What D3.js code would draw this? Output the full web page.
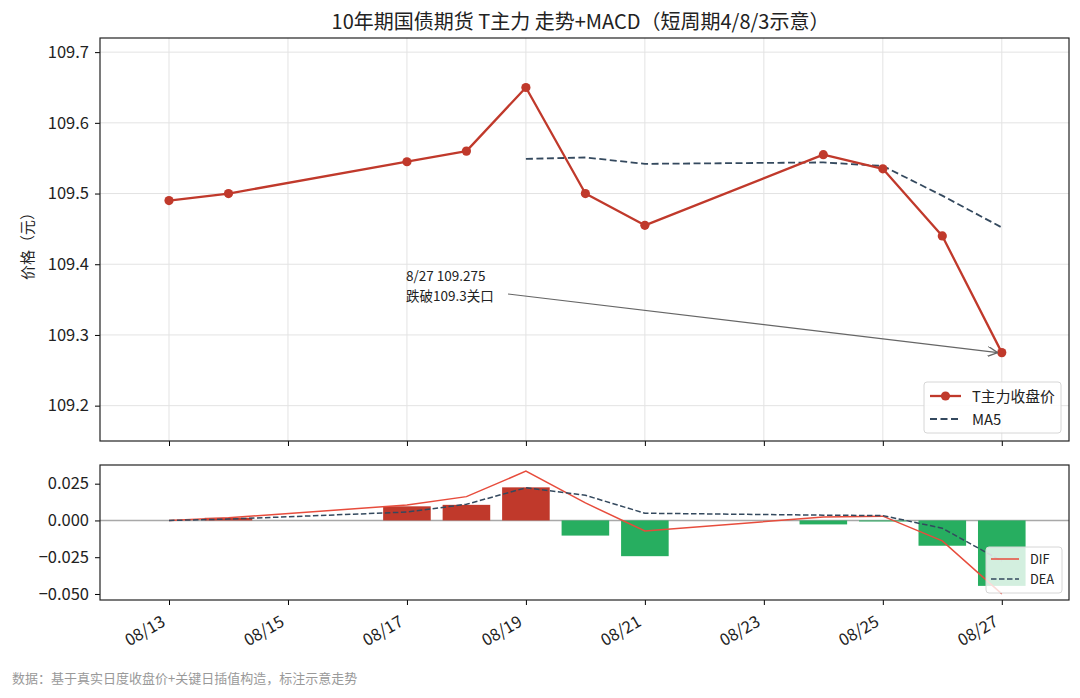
<!DOCTYPE html>
<html><head><meta charset="utf-8">
<script src="https://cdn.jsdelivr.net/npm/d3@7"></script>
<style>
body{margin:0;background:#fff}
svg{display:block}
text{font-family:"Noto Sans CJK SC","Noto Sans",sans-serif;fill:#222}
</style>
</head><body>
<svg id="c" width="1080" height="698"></svg>
<script>
// ---- data ----
const dates = ["08/13","08/14","08/17","08/18","08/19","08/20","08/21","08/24","08/25","08/26","08/27"];
const closePrice = [109.49,109.50,109.545,109.56,109.65,109.50,109.455,109.555,109.535,109.44,109.275];
const ma5 = [null,null,null,null,109.549,109.551,109.542,109.544,109.539,109.497,109.452];
const dif = [0,0.0018,0.0105,0.0162,0.0335,0.0119,-0.0072,0.0023,0.0029,-0.0139,-0.0499];
const dea = [0,0.0009,0.0057,0.0110,0.0222,0.0171,0.0049,0.0036,0.0033,-0.0053,-0.0276];
const hist = [0,0.0018,0.0096,0.0106,0.0225,-0.0103,-0.0243,-0.0027,-0.0007,-0.0172,-0.0445];
const xTickLabels = ["08/13","08/15","08/17","08/19","08/21","08/23","08/25","08/27"];
const priceTicks = [109.2,109.3,109.4,109.5,109.6,109.7];
const macdTicks = [-0.05,-0.025,0,0.025];
const annoLines = ["8/27 109.275","跌破109.3关口"];

// ---- setup ----
const svg = d3.select("#c");
const parse = s => d3.timeParse("%Y/%m/%d")("2025/"+s);
const DAY = 864e5;
const L = 100, R = 1069;
const top1 = 38, bot1 = 441, top2 = 465, bot2 = 600;
const x = d3.scaleTime()
  .domain([new Date(+parse("08/13") - 1.16*DAY), new Date(+parse("08/27") + 1.13*DAY)])
  .range([L, R]);
const y1 = d3.scaleLinear().domain([109.15, 109.72]).range([bot1, top1]);
const y2 = d3.scaleLinear().domain([-0.0541, 0.0377]).range([bot2, top2]);

const cRed = "#c0392b", cGreen = "#27ae60", cDark = "#34495e", cDif = "#e74c3c";
const TICK_FS = 16.5;

const defs = svg.append("defs");
defs.append("clipPath").attr("id","clip1").append("rect").attr("x",L).attr("y",top1).attr("width",R-L).attr("height",bot1-top1);
defs.append("clipPath").attr("id","clip2").append("rect").attr("x",L).attr("y",top2).attr("width",R-L).attr("height",bot2-top2);
defs.append("marker").attr("id","arr").attr("viewBox","0 0 10 10").attr("refX",10).attr("refY",5)
  .attr("markerWidth",10).attr("markerHeight",10).attr("markerUnits","userSpaceOnUse").attr("orient","auto")
  .append("path").attr("d","M0,0 L10,5 L0,10").attr("fill","none").attr("stroke","#666").attr("stroke-width",1.3);

const tickDates = xTickLabels.map(parse);

// ---- top panel ----
const g1 = svg.append("g");
g1.append("g").selectAll("line").data(tickDates).join("line")
  .attr("x1",d=>x(d)).attr("x2",d=>x(d)).attr("y1",top1).attr("y2",bot1)
  .attr("stroke","#e3e3e3").attr("stroke-width",1);
g1.append("g").selectAll("line").data(priceTicks).join("line")
  .attr("x1",L).attr("x2",R).attr("y1",d=>y1(d)).attr("y2",d=>y1(d))
  .attr("stroke","#e3e3e3").attr("stroke-width",1);

const pts = dates.map((d,i)=>({d:parse(d), c:closePrice[i], m:ma5[i], dif:dif[i], dea:dea[i], h:hist[i]}));
const p1 = g1.append("g").attr("clip-path","url(#clip1)");
p1.append("path").datum(pts.filter(p=>p.m!=null))
  .attr("d", d3.line().x(p=>x(p.d)).y(p=>y1(p.m)))
  .attr("fill","none").attr("stroke",cDark).attr("stroke-width",1.8).attr("stroke-dasharray","7,3.5");
p1.append("path").datum(pts)
  .attr("d", d3.line().x(p=>x(p.d)).y(p=>y1(p.c)))
  .attr("fill","none").attr("stroke",cRed).attr("stroke-width",2.3).attr("stroke-linejoin","round");
p1.selectAll("circle").data(pts).join("circle")
  .attr("cx",p=>x(p.d)).attr("cy",p=>y1(p.c)).attr("r",4.6).attr("fill",cRed);

// annotation
const last = pts[pts.length-1];
g1.append("line").attr("x1",508).attr("y1",294)
  .attr("x2",x(last.d)-4).attr("y2",y1(last.c))
  .attr("stroke","#666").attr("stroke-width",1.2).attr("marker-end","url(#arr)");
g1.selectAll("text.anno").data(annoLines).join("text").attr("class","anno")
  .attr("x",406).attr("y",(d,i)=>281 + i*19.5).attr("font-size",13.5).text(d=>d);

// axes
g1.append("g").attr("transform",`translate(0,${bot1})`)
  .call(d3.axisBottom(x).tickValues(tickDates).tickFormat("").tickSize(5).tickSizeOuter(0))
  .call(a=>a.select(".domain").remove());
g1.append("g").attr("transform",`translate(${L},0)`)
  .call(d3.axisLeft(y1).tickValues(priceTicks).tickFormat(d3.format(".1f")).tickSize(5).tickSizeOuter(0))
  .call(a=>a.select(".domain").remove())
  .call(a=>a.selectAll("text").attr("font-size",TICK_FS).attr("x",-11));
g1.append("rect").attr("x",L).attr("y",top1).attr("width",R-L).attr("height",bot1-top1)
  .attr("fill","none").attr("stroke","#222").attr("stroke-width",1.2);

// y label
svg.append("text").attr("transform",`translate(33,${(top1+bot1)/2+3}) rotate(-90)`)
  .attr("text-anchor","middle").attr("font-size",15).text("价格（元）");

// legend top
const lg1 = svg.append("g");
lg1.append("rect").attr("x",924).attr("y",382).attr("width",137).attr("height",51).attr("rx",3)
  .attr("fill","#fff").attr("fill-opacity",0.85).attr("stroke","#d6d6d6");
lg1.append("line").attr("x1",930).attr("x2",961).attr("y1",396).attr("y2",396).attr("stroke",cRed).attr("stroke-width",2.3);
lg1.append("circle").attr("cx",945.5).attr("cy",396).attr("r",4.6).attr("fill",cRed);
lg1.append("text").attr("x",972).attr("y",401.5).attr("font-size",14.8).text("T主力收盘价");
lg1.append("line").attr("x1",930).attr("x2",961).attr("y1",419).attr("y2",419).attr("stroke",cDark).attr("stroke-width",1.8).attr("stroke-dasharray","7,3.5");
lg1.append("text").attr("x",972).attr("y",424.5).attr("font-size",14.8).text("MA5");

// ---- bottom panel ----
const g2 = svg.append("g");
const p2 = g2.append("g").attr("clip-path","url(#clip2)");
p2.append("line").attr("x1",L).attr("x2",R).attr("y1",y2(0)).attr("y2",y2(0)).attr("stroke","#a8a8a8").attr("stroke-width",1.5);
const bw = x(new Date(+parse("08/13")+0.8*DAY)) - x(parse("08/13"));
p2.selectAll("rect.bar").data(pts).join("rect").attr("class","bar")
  .attr("x",p=>x(p.d)-bw/2).attr("width",bw)
  .attr("y",p=>y2(Math.max(0,p.h))).attr("height",p=>Math.abs(y2(p.h)-y2(0)))
  .attr("fill",p=>p.h>=0?cRed:cGreen);
p2.append("path").datum(pts).attr("d",d3.line().x(p=>x(p.d)).y(p=>y2(p.dif)))
  .attr("fill","none").attr("stroke",cDif).attr("stroke-width",1.5);
p2.append("path").datum(pts).attr("d",d3.line().x(p=>x(p.d)).y(p=>y2(p.dea)))
  .attr("fill","none").attr("stroke",cDark).attr("stroke-width",1.5).attr("stroke-dasharray","5.5,2.5");

g2.append("g").attr("transform",`translate(0,${bot2})`)
  .call(d3.axisBottom(x).tickValues(tickDates).tickFormat((d,i)=>xTickLabels[i]).tickSize(5).tickSizeOuter(0))
  .call(a=>a.select(".domain").remove())
  .call(a=>a.selectAll("text").attr("font-size",TICK_FS).attr("text-anchor","end")
      .attr("x",0).attr("y",0).attr("dy",0)
      .attr("transform","translate(-3,25) rotate(-30)"));
g2.append("g").attr("transform",`translate(${L},0)`)
  .call(d3.axisLeft(y2).tickValues(macdTicks).tickFormat(d3.format(".3f")).tickSize(5).tickSizeOuter(0))
  .call(a=>a.select(".domain").remove())
  .call(a=>a.selectAll("text").attr("font-size",TICK_FS).attr("x",-11));
g2.append("rect").attr("x",L).attr("y",top2).attr("width",R-L).attr("height",bot2-top2)
  .attr("fill","none").attr("stroke","#222").attr("stroke-width",1.2);

// legend bottom
const lg2 = svg.append("g");
lg2.append("rect").attr("x",986).attr("y",547).attr("width",76).attr("height",46).attr("rx",3)
  .attr("fill","#fff").attr("fill-opacity",0.8).attr("stroke","#d6d6d6");
lg2.append("line").attr("x1",991).attr("x2",1019).attr("y1",559).attr("y2",559).attr("stroke",cDif).attr("stroke-width",1.5);
lg2.append("text").attr("x",1030).attr("y",563.5).attr("font-size",12.8).text("DIF");
lg2.append("line").attr("x1",991).attr("x2",1019).attr("y1",579).attr("y2",579).attr("stroke",cDark).attr("stroke-width",1.5).attr("stroke-dasharray","5.5,2.5");
lg2.append("text").attr("x",1030).attr("y",583.5).attr("font-size",12.8).text("DEA");

// title & footnote
svg.append("text").attr("x",(L+R)/2 - 4).attr("y",28.5).attr("text-anchor","middle").attr("font-size",20)
  .text("10年期国债期货 T主力 走势+MACD（短周期4/8/3示意）");
svg.append("text").attr("x",12).attr("y",683).attr("font-size",13).style("fill","#999")
  .text("数据：基于真实日度收盘价+关键日插值构造，标注示意走势");
</script>
</body></html>
